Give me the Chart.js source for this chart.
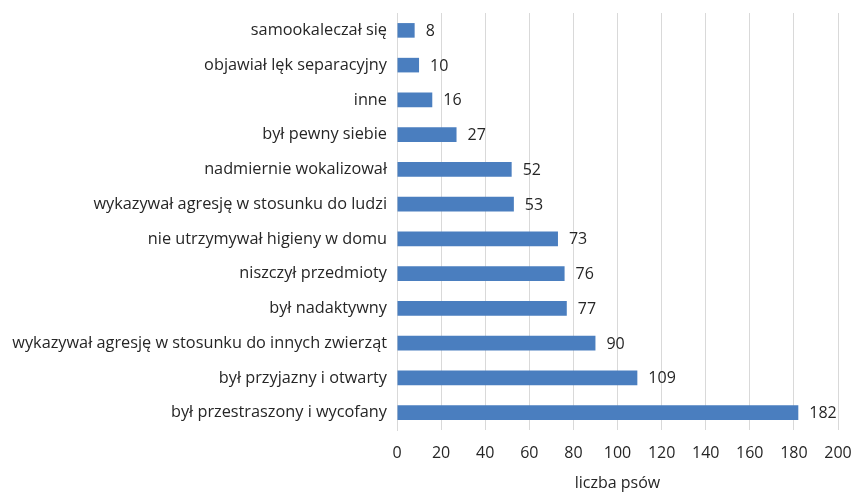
<!DOCTYPE html>
<html><head><meta charset="utf-8">
<script src="https://cdn.jsdelivr.net/npm/chart.js@4.4.0/dist/chart.umd.min.js"></script>
<style>html,body{margin:0;padding:0;background:#fff}#w{width:855px;height:493px}</style>
</head><body><div id="w"><canvas id="c"></canvas></div>
<script>
const categories = ["samookaleczał się","objawiał lęk separacyjny","inne","był pewny siebie","nadmiernie wokalizował","wykazywał agresję w stosunku do ludzi","nie utrzymywał higieny w domu","niszczył przedmioty","był nadaktywny","wykazywał agresję w stosunku do innych zwierząt","był przyjazny i otwarty","był przestraszony i wycofany"];
const values = [8,10,16,27,52,53,73,76,77,90,109,182];
const xTicks = [0,20,40,60,80,100,120,140,160,180,200];
const axisTitle = "liczba psów";
const FONT = "Open Sans";
const labelPlugin = {
  id:'lbl',
  afterDatasetsDraw(chart){
    const ctx = chart.ctx; const meta = chart.getDatasetMeta(0);
    ctx.save(); ctx.font = "16px '"+FONT+"'"; ctx.fillStyle="#262626"; ctx.textBaseline="middle"; ctx.textAlign="left";
    meta.data.forEach((b,i)=>{ ctx.fillText(String(values[i]), b.x+11, b.y+1); });
    ctx.restore();
  }
};
new Chart(document.getElementById('c'),{
  type:'bar',
  data:{labels:categories,datasets:[{data:values,backgroundColor:'#4a7ebf',barPercentage:0.42,categoryPercentage:1}]},
  options:{
    indexAxis:'y',responsive:true,maintainAspectRatio:false,animation:false,
    layout:{padding:{top:13,right:17,left:0,bottom:0}},
    plugins:{legend:{display:false},tooltip:{enabled:false}},
    scales:{
      x:{min:0,max:200,afterBuildTicks(s){s.ticks=xTicks.map(v=>({value:v}));},
        grid:{color:'#d9d9d9',drawTicks:false},border:{display:false},
        ticks:{color:'#262626',font:{family:FONT,size:16},padding:14},
        title:{display:true,text:axisTitle,color:'#262626',font:{family:FONT,size:16},padding:{top:5,bottom:0}},
        afterFit(s){s.height=63;s.paddingLeft=0;s.paddingRight=0;}},
      y:{grid:{display:false,drawTicks:false},border:{display:true,color:'#d9d9d9'},
        ticks:{color:'#262626',font:{family:FONT,size:16.3},padding:10},
        afterFit(s){s.width=397;s.paddingTop=0;s.paddingBottom=0;}}
    }
  },
  plugins:[labelPlugin]
});
</script></body></html>
